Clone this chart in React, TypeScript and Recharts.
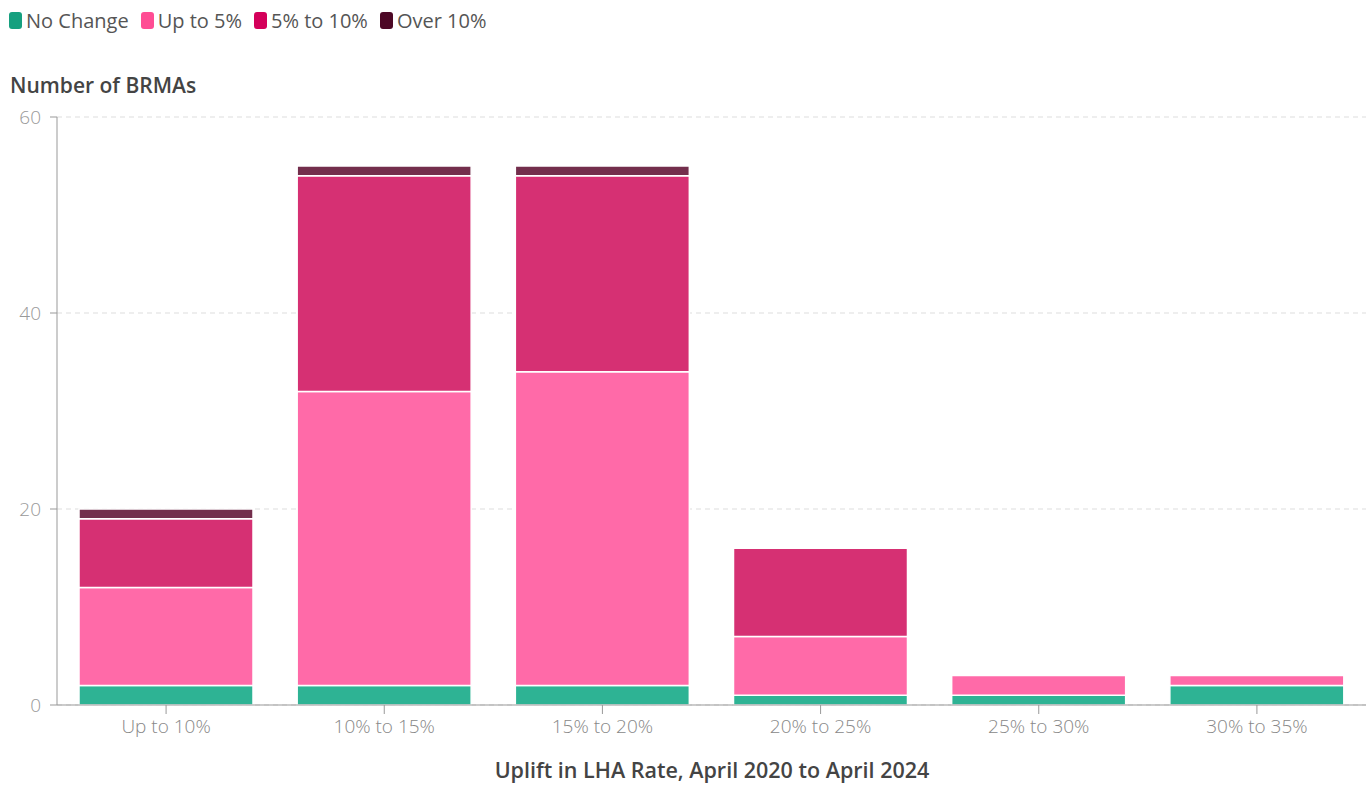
import { BarChart, Bar, XAxis, YAxis, CartesianGrid } from 'recharts';

const categories = ['Up to 10%', '10% to 15%', '15% to 20%', '20% to 25%', '25% to 30%', '30% to 35%'];
const noChange = [2, 2, 2, 1, 1, 2];
const upTo5 = [10, 30, 32, 6, 2, 1];
const from5to10 = [7, 22, 20, 9, 0, 0];
const over10 = [1, 1, 1, 0, 0, 0];
const yTicks = [0, 20, 40, 60];

const series = [
  { key: 'noChange', name: 'No Change', fill: '#2eb394', legend: '#16a07f' },
  { key: 'upTo5', name: 'Up to 5%', fill: '#ff6aa8', legend: '#ff4d94' },
  { key: 'from5to10', name: '5% to 10%', fill: '#d63073', legend: '#d4005a' },
  { key: 'over10', name: 'Over 10%', fill: '#732e4c', legend: '#4d0826' },
];

const data = categories.map((cat, i) => ({
  cat,
  noChange: noChange[i],
  upTo5: upTo5[i],
  from5to10: from5to10[i],
  over10: over10[i],
}));

const font = '"Open Sans", Lato, sans-serif';

export default function App() {
  return (
    <div style={{ position: 'absolute', left: 0, top: 0, width: 1370, height: 785, fontFamily: font, background: '#fff' }}>
      <div style={{ position: 'absolute', left: 9, top: 7, display: 'flex', alignItems: 'center', fontSize: 20, color: '#555' }}>
        {series.map((s) => (
          <div key={s.key} style={{ display: 'flex', alignItems: 'center', marginRight: 12 }}>
            <span style={{ display: 'inline-block', width: 13, height: 17, borderRadius: 3, background: s.legend, marginRight: 4 }} />
            <span>{s.name}</span>
          </div>
        ))}
      </div>
      <div style={{ position: 'absolute', left: 10, top: 71, fontSize: 21, color: '#444', fontWeight: 600 }}>Number of BRMAs</div>
      <div style={{ position: 'absolute', left: 0, width: 1424, top: 755, textAlign: 'center', fontSize: 21.5, color: '#444', fontWeight: 600 }}>
        Uplift in LHA Rate, April 2020 to April 2024
      </div>
      <div style={{ position: 'absolute', left: 0, top: 0 }}>
        <BarChart width={1370} height={785} data={data} margin={{ top: 117, right: 4, bottom: 40, left: 0 }} barCategoryGap={22}>
          <CartesianGrid vertical={false} stroke="#ddd" strokeDasharray="5 4" />
          <XAxis
            dataKey="cat"
            height={40}
            stroke="#999"
            tickSize={9}
            tick={{ fill: '#888', fontSize: 19, fontFamily: font, fontWeight: 300 }}
            tickMargin={6}
          />
          <YAxis
            width={57}
            domain={[0, 60]}
            ticks={yTicks}
            stroke="#999"
            tickSize={7}
            tickMargin={9}
            tick={{ fill: '#999', fontSize: 19, fontFamily: font, fontWeight: 300 }}
          />
          {series.map((s) => (
            <Bar
              key={s.key}
              dataKey={s.key}
              name={s.name}
              stackId="a"
              fill={s.fill}
              stroke="#fff"
              strokeWidth={1.5}
              isAnimationActive={false}
            />
          ))}
        </BarChart>
      </div>
    </div>
  );
}
